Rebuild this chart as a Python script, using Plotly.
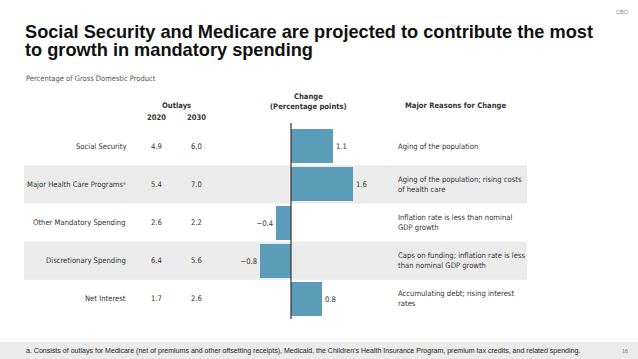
import plotly.graph_objects as go

W, H = 638, 359

categories = ["Social Security", "Major Health Care Programs\u1d43", "Other Mandatory Spending",
              "Discretionary Spending", "Net Interest"]
outlays_2020 = [4.9, 5.4, 2.6, 6.4, 1.7]
outlays_2030 = [6.0, 7.0, 2.2, 5.6, 2.6]
change = [1.1, 1.6, -0.4, -0.8, 0.8]
reasons = ["Aging of the population",
           "Aging of the population; rising costs<br>of health care",
           "Inflation rate is less than nominal<br>GDP growth",
           "Caps on funding; inflation rate is less<br>than nominal GDP growth",
           "Accumulating debt; rising interest<br>rates"]
years = ["2020", "2030"]

title_lines = ["Social Security and Medicare are projected to contribute the most",
               "to growth in mandatory spending"]
subtitle = "Percentage of Gross Domestic Product"
footnote = ("a. Consists of outlays for Medicare (net of premiums and other offsetting receipts), Medicaid, "
            "the Children\u2019s Health Insurance Program, premium tax credits, and related spending.")

NARROW = "DejaVu Sans Condensed, sans-serif"
ARIAL = "Liberation Sans, Arial, sans-serif"
TXT = "#333333"
BAR = "#5b9db8"
BAND = "#ebebeb"
FS = 7.6

def px(x):
    return x / W

def py(y):
    return 1 - y / H

zero_px = 291
unit_px = 38.5
xr = [-zero_px / unit_px, (W - zero_px) / unit_px]

labels = [f"{v:.1f}".replace("-", "\u2212") for v in change]

fig = go.Figure()
fig.add_trace(go.Bar(
    x=change, y=categories, orientation="h", width=0.89,
    marker=dict(color=BAR, line=dict(width=0)),
    text=labels, textposition="outside", cliponaxis=False,
    textfont=dict(family=NARROW, size=FS, color=TXT),
    hoverinfo="skip",
))

shapes = []
for i in (1, 3):
    shapes.append(dict(type="rect", xref="paper", yref="y", x0=px(24), x1=px(527),
                       y0=i - 0.5, y1=i + 0.5, fillcolor=BAND, line=dict(width=0), layer="below"))
shapes.append(dict(type="line", xref="x", yref="paper", x0=0, x1=0,
                   y0=py(319), y1=py(123), line=dict(color="#333333", width=1.2)))
shapes.append(dict(type="rect", xref="paper", yref="paper", x0=0, x1=1, y0=0, y1=py(342),
                   fillcolor=BAND, line=dict(width=0), layer="below"))

ann = []
def note(x, y, text, size=FS, family=NARROW, xanchor="center", color=TXT, yref="paper", align="center"):
    ann.append(dict(x=x, y=y, xref="paper", yref=yref, text=text, showarrow=False,
                    xanchor=xanchor, yanchor="middle", align=align,
                    font=dict(family=family, size=size, color=color)))

for i, c in enumerate(categories):
    note(px(128), c, c, xanchor="right", yref="y")
    note(px(156), c, f"{outlays_2020[i]:.1f}", yref="y")
    note(px(196), c, f"{outlays_2030[i]:.1f}", yref="y")
    note(px(396), c, reasons[i], xanchor="left", yref="y", align="left")

note(px(176), py(105), "<b>Outlays</b>")
note(px(156), py(118), f"<b>{years[0]}</b>")
note(px(196), py(118), f"<b>{years[1]}</b>")
note(px(308), py(101.5), "<b>Change</b><br><b>(Percentage points)</b>")
note(px(456), py(105), "<b>Major Reasons for Change</b>")

for k, (line, yy) in enumerate(zip(title_lines, [32, 50.5])):
    ann.append(dict(x=px(23), y=py(yy), xref="paper", yref="paper", text=f"<b>{line}</b>",
                    showarrow=False, xanchor="left", yanchor="middle", align="left",
                    font=dict(family=ARIAL, size=18.2, color="#111111")))
note(px(24), py(78), subtitle, size=7.5, xanchor="left", color="#555555")
note(px(24), py(350.5), footnote, size=7.05, family=ARIAL, xanchor="left", color="#222222")
note(px(630), py(351), "16", size=5.5, family=ARIAL, xanchor="right", color="#777777")
note(px(631), py(12), "CBO", size=5.5, family=ARIAL, xanchor="right", color="#888888")

fig.update_layout(
    width=W, height=H, margin=dict(l=0, r=0, t=0, b=0),
    paper_bgcolor="white", plot_bgcolor="rgba(0,0,0,0)",
    showlegend=False, shapes=shapes, annotations=ann,
    xaxis=dict(range=xr, domain=[0, 1], visible=False, fixedrange=True),
    yaxis=dict(type="category", range=[4.5, -0.5], domain=[py(318), py(127)],
               visible=False, fixedrange=True),
    bargap=0,
)

fig.write_html("out.html", config={"displayModeBar": False},
               post_script="document.body.style.margin='0';document.body.style.overflow='hidden';")
